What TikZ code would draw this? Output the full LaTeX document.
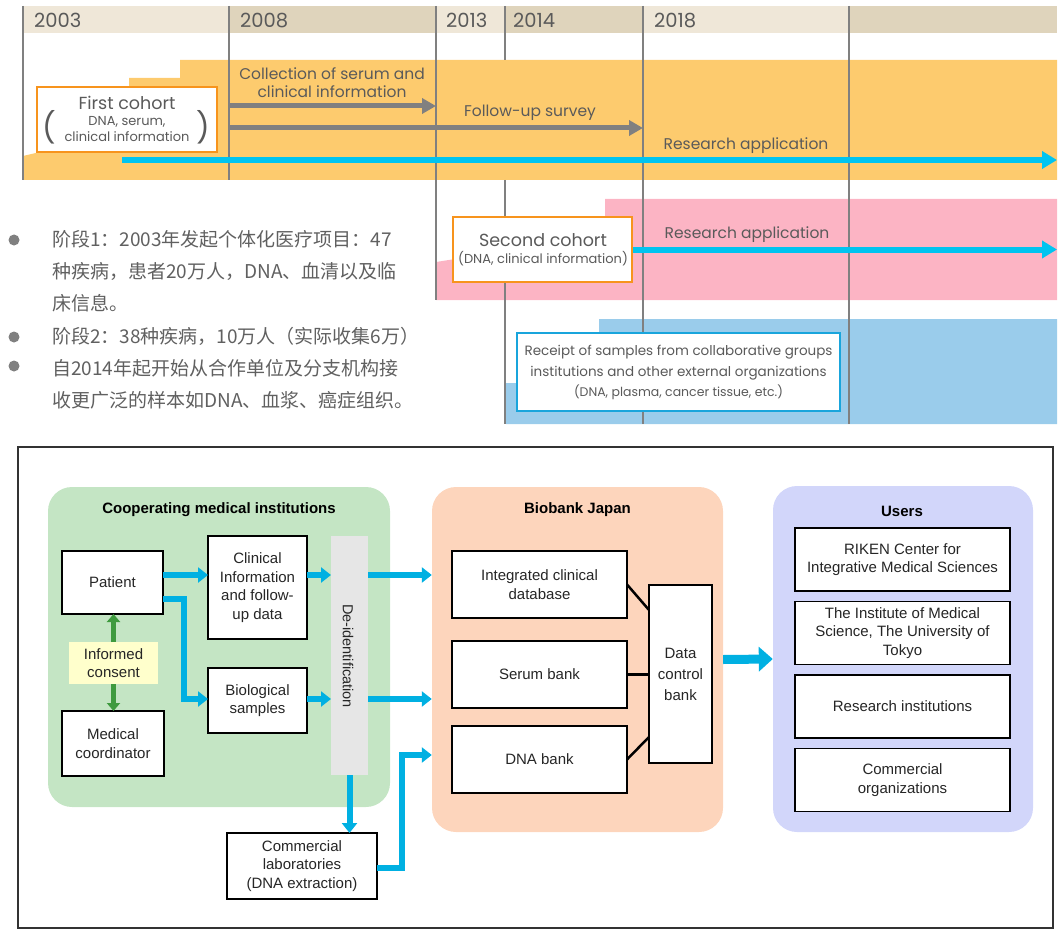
\documentclass[tikz,border=0pt]{standalone}
\usepackage{fontspec}
\setmainfont{Liberation Sans}
\newfontfamily\tlfont{Poppins}
\newfontfamily\cjkfont{Noto Sans CJK SC}
\usepackage{tikz}
\usetikzlibrary{positioning,arrows.meta,calc}
\definecolor{hdrLight}{RGB}{239,231,216}
\definecolor{hdrDark}{RGB}{223,212,188}
\definecolor{yearLine}{RGB}{128,128,128}
\definecolor{bandOrange}{RGB}{253,203,110}
\definecolor{bandPink}{RGB}{252,180,196}
\definecolor{bandBlue}{RGB}{154,204,235}
\definecolor{cohortOrange}{RGB}{247,148,29}
\definecolor{receiptBlue}{RGB}{25,165,220}
\definecolor{appCyan}{RGB}{0,196,240}
\definecolor{tlText}{RGB}{90,90,90}
\definecolor{flowBlue}{RGB}{0,176,226}
\definecolor{consentGreen}{RGB}{62,154,62}
\definecolor{panelGreen}{RGB}{196,229,196}
\definecolor{panelPeach}{RGB}{253,213,188}
\definecolor{panelLilac}{RGB}{210,214,250}
\definecolor{consentYellow}{RGB}{255,255,204}
\definecolor{deidGray}{RGB}{230,230,230}
\definecolor{noteGray}{RGB}{96,96,96}

\begin{document}
\begin{tikzpicture}[
    x=1pt, y=-1pt,
    yearlabel/.style={
        anchor=base west,
        inner sep=0pt,
        text=tlText,
        font=\tlfont\fontsize{19.5}{19.5}\selectfont
    },
    yearline/.style={draw=yearLine, line width=2pt},
    cohort/.style={
        draw=cohortOrange,
        line width=2.5pt,
        fill=white,
        inner sep=0pt
    },
    tltext/.style={
        text=tlText,
        inner sep=0pt,
        align=center,
        font=\tlfont\fontsize{15.5}{18}\selectfont
    },
    tlsmall/.style={
        text=tlText,
        inner sep=0pt,
        align=center,
        font=\tlfont\fontsize{13}{16}\selectfont
    },
    surveyarrow/.style={
        draw=yearLine,
        line width=5pt,
        -{Triangle[length=14pt,width=15pt]}
    },
    apparrow/.style={
        draw=appCyan,
        line width=6pt,
        -{Triangle[length=15pt,width=17pt]}
    },
    note/.style={
        anchor=north west,
        inner sep=0pt,
        align=left,
        text=noteGray,
        font=\cjkfont\fontsize{19}{32}\selectfont
    },
    panel/.style={rounded corners=24pt, inner sep=0pt},
    paneltitle/.style={inner sep=0pt, font=\bfseries\fontsize{15}{18}\selectfont},
    box/.style={
        draw=black,
        line width=1.6pt,
        fill=white,
        align=center,
        inner sep=0pt,
        outer sep=0pt,
        text=black!85,
        font=\fontsize{15}{18.5}\selectfont
    },
    flow/.style={
        draw=flowBlue,
        line width=6pt,
        -{Triangle[length=10pt,width=15pt]}
    },
    consentarrow/.style={
        draw=consentGreen,
        line width=5.5pt,
        -{Triangle[length=8pt,width=13pt]}
    },
    link/.style={draw=black, line width=2.5pt}
]
    \useasboundingbox (0,0) rectangle (1060,936);

    % ---------------------------------------------------------
    % TOP: TIMELINE HEADER
    % ---------------------------------------------------------
    \fill[hdrLight] (23,6) rectangle (229,33);
    \fill[hdrDark] (229,6) rectangle (436,33);
    \fill[hdrLight] (436,6) rectangle (505,33);
    \fill[hdrDark] (505,6) rectangle (643,33);
    \fill[hdrLight] (643,6) rectangle (849,33);
    \fill[hdrDark] (849,6) rectangle (1057,33);

    \coordinate (y2003) at (23,6);
    \coordinate (y2008) at (229,6);
    \coordinate (y2013) at (436,6);
    \coordinate (y2014) at (505,6);
    \coordinate (y2018) at (643,6);
    \coordinate (yNext) at (849,6);
    \coordinate (tlEnd) at (1057,6);

    \node[yearlabel] (lab2003) at (34,27.5) {2003};
    \node[yearlabel] (lab2008) at (240,27.5) {2008};
    \node[yearlabel] (lab2013) at (446,27.5) {2013};
    \node[yearlabel] (lab2014) at (513,27.5) {2014};
    \node[yearlabel] (lab2018) at (654,27.5) {2018};

    % ---------------------------------------------------------
    % COHORT BANDS
    % ---------------------------------------------------------
    \fill[bandOrange] (23,180) -- (23,156) -- (40,152) -- (129,152) -- (129,78)
        -- (180,78) -- (180,60) -- (1057,60) -- (1057,180) -- cycle;
    \fill[bandPink] (436,300) -- (436,262) -- (455,259) -- (605,259) -- (605,199)
        -- (1057,199) -- (1057,300) -- cycle;
    \fill[bandBlue] (506,424) -- (506,383) -- (599,383) -- (599,319)
        -- (1057,319) -- (1057,424) -- cycle;

    % year lines
    \draw[yearline] (y2003) -- ++(0,174);
    \draw[yearline] (y2008) -- ++(0,174);
    \draw[yearline] (y2013) -- ++(0,294);
    \draw[yearline] (y2014) -- ++(0,54);
    \draw[yearline] ($(y2014)+(0,174)$) -- ++(0,244);
    \draw[yearline] (y2018) -- ++(0,418);
    \draw[yearline] (yNext) -- ++(0,418);

    % ---------------------------------------------------------
    % FIRST COHORT
    % ---------------------------------------------------------
    \coordinate (collectRow) at (0,106);
    \coordinate (surveyRow) at (0,128);
    \coordinate (appStart) at (122,160);

    \draw[surveyarrow] (y2008 |- collectRow) -- (y2013 |- collectRow);
    \draw[surveyarrow] (y2008 |- surveyRow) -- (y2018 |- surveyRow);
    \draw[apparrow] (appStart) -- (tlEnd |- appStart);

    \node[tltext] (collectLab) at (332,83) {Collection of serum and\\clinical information};
    \node[tltext] (surveyLab) at (530,113) {Follow-up survey};
    \node[tltext] (appLab) at (746,146) {Research application};

    \node[cohort, minimum width=180pt, minimum height=65pt] (first) at (127,119.5) {};
    \node[tltext, font=\tlfont\fontsize{17.5}{17.5}\selectfont] (firstTitle) at (127,103) {First cohort};
    \node[tlsmall] (firstSub) at (127,129.5) {DNA, serum,\\clinical information};
    \node[tltext, font=\tlfont\fontsize{30}{30}\selectfont] (firstOpen) at (49,127) {(};
    \node[tltext, font=\tlfont\fontsize{30}{30}\selectfont] (firstClose) at (203,127) {)};

    % ---------------------------------------------------------
    % SECOND COHORT AND EXTERNAL SAMPLES
    % ---------------------------------------------------------
    \node[cohort, minimum width=179pt, minimum height=65pt] (second) at (542.5,249.5) {};
    \node[tltext, font=\tlfont\fontsize{17.5}{17.5}\selectfont] (secondTitle) at (543,240) {Second cohort};
    \node[tlsmall] (secondSub) at (543,259) {(DNA, clinical information)};
    \draw[apparrow] (second.east) -- (tlEnd |- second.east);
    \node[tltext] (appLab2) at (747,235) {Research application};

    \node[cohort, draw=receiptBlue, minimum width=323pt, minimum height=78pt] (receipt) at (678.5,372) {};
    \node[tltext, font=\tlfont\fontsize{13.5}{21}\selectfont] (receiptText) at (678.5,362.5)
        {Receipt of samples from collaborative groups\\institutions and other external organizations};
    \node[tlsmall, font=\tlfont\fontsize{12.5}{16}\selectfont] (receiptSub) at (678.5,392)
        {(DNA, plasma, cancer tissue, etc.)};

    % ---------------------------------------------------------
    % NOTES
    % ---------------------------------------------------------
    \fill[noteGray!80] (14,240) circle (5.5pt);
    \fill[noteGray!80] (14,337) circle (5.5pt);
    \fill[noteGray!80] (14,366) circle (5.5pt);
    \node[note] (note1) at (52,230) {阶段1：2003年发起个体化医疗项目：47\\种疾病，患者20万人，DNA、血清以及临\\床信息。};
    \node[note] (note2) at (52,327) {阶段2：38种疾病，10万人（实际收集6万）};
    \node[note] (note3) at (52,359) {自2014年起开始从合作单位及分支机构接\\收更广泛的样本如DNA、血浆、癌症组织。};

    % ---------------------------------------------------------
    % BOTTOM: SAMPLE FLOW
    % ---------------------------------------------------------
    \draw[line width=1.5pt, draw=black!80] (18,447) rectangle (1053,928);

    \node[panel, fill=panelGreen, minimum width=342pt, minimum height=320pt] (coop) at (219,647) {};
    \node[paneltitle] (coopTitle) at (219,510) {Cooperating medical institutions};
    \node[panel, fill=panelPeach, minimum width=291pt, minimum height=345pt] (bbj) at (577.5,659.5) {};
    \node[paneltitle] (bbjTitle) at (577.5,510) {Biobank Japan};
    \node[panel, fill=panelLilac, minimum width=260pt, minimum height=346pt] (users) at (903,659) {};
    \node[paneltitle] (usersTitle) at (902,511) {Users};

    % cooperating institutions
    \node[box, minimum width=101pt, minimum height=63pt] (patient) at (112.5,582.5) {Patient};
    \node[box, minimum width=99pt, minimum height=103pt] (clin) at (257.5,587.5) {Clinical\\Information\\and follow-\\up data};
    \node[box, minimum width=99pt, minimum height=65pt] (bio) at (257.5,700.5) {Biological\\samples};
    \node[box, draw=none, fill=consentYellow, minimum width=89pt, minimum height=42pt] (consent) at (113.5,663) {Informed\\consent};
    \node[box, minimum width=102pt, minimum height=65pt] (medco) at (113,743.5) {Medical\\coordinator};
    \node[fill=deidGray, minimum width=37pt, minimum height=239pt, inner sep=0pt, outer sep=0pt] (deid) at (349.5,655.5) {};
    \node[rotate=-90, inner sep=0pt, text=black!85, font=\fontsize{14.5}{17}\selectfont] (deidText) at (348,656) {De-identification};
    \node[box, minimum width=150pt, minimum height=66pt] (labs) at (302,866) {Commercial\\laboratories\\(DNA extraction)};

    % biobank japan
    \node[box, minimum width=175pt, minimum height=67pt] (integ) at (539.5,584.5) {Integrated clinical\\database};
    \node[box, minimum width=175pt, minimum height=67pt, below=23pt of integ] (serum) {Serum bank};
    \node[box, minimum width=175pt, minimum height=67pt, below=18pt of serum] (dnabank) {DNA bank};
    \node[box, minimum width=63pt, minimum height=178pt, font=\fontsize{15}{21}\selectfont] (dcb) at (680.5,674) {Data\\control\\bank};

    % users
    \node[box, minimum width=215pt, minimum height=63pt] (riken) at (902.5,559.5) {RIKEN Center for\\Integrative Medical Sciences};
    \node[box, minimum width=215pt, minimum height=63pt, below=10.5pt of riken] (ims) {The Institute of Medical\\Science, The University of\\Tokyo};
    \node[box, minimum width=215pt, minimum height=63pt, below=10.5pt of ims] (research) {Research institutions};
    \node[box, minimum width=215pt, minimum height=63pt, below=10.5pt of research] (commorg) {Commercial\\organizations};

    % ---------------------------------------------------------
    % ARROWS
    % ---------------------------------------------------------
    \coordinate (rowA) at (0,575);
    \coordinate (rowB) at (0,599);
    \coordinate (rowC) at (0,699);
    \coordinate (rowD) at (0,755);
    \coordinate (rowE) at (0,868);

    \draw[flow] (patient.east |- rowA) -- (clin.west |- rowA);
    \draw[flow] (patient.east |- rowB) -- ++(21,0) |- (bio.west |- rowC);
    \draw[flow] (clin.east |- rowA) -- (deid.west |- rowA);
    \draw[flow] (bio.east |- rowC) -- (deid.west |- rowC);
    \draw[flow] (deid.east |- rowA) -- (bbj.west |- rowA);
    \draw[flow] (deid.east |- rowC) -- (bbj.west |- rowC);
    \draw[flow] (deid.south) -- (labs.north -| deid.south);
    \draw[flow] (labs.east |- rowE) -- ++(25,0) |- (bbj.west |- rowD);

    \draw[consentarrow] (consent.north) -- (patient.south -| consent.north);
    \draw[consentarrow] (consent.south) -- (medco.north -| consent.south);

    \draw[link] (integ.east) -- ($(dcb.west)+(0,-64)$);
    \draw[link] (serum.east) -- (dcb.west |- serum.east);
    \draw[link] (dnabank.east) -- ($(dcb.west)+(0,63)$);

    \draw[draw=flowBlue, line width=9pt, -{Triangle[length=14pt,width=24pt]}] (bbj.east) -- (users.west);

\end{tikzpicture}
\end{document}
